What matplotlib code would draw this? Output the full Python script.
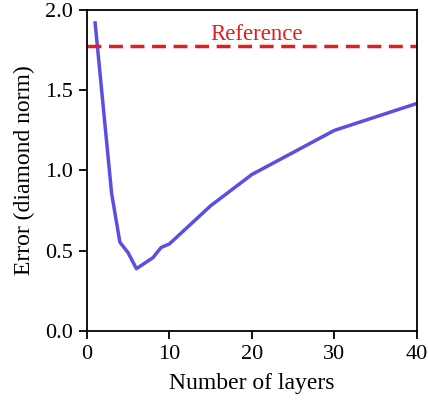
import numpy as np
import matplotlib
matplotlib.use("Agg")
import matplotlib.pyplot as plt

# error vs number of layers
layers = [1, 3, 4, 5, 6, 8, 9, 10, 15, 20, 30, 40]
error = [1.92, 0.856, 0.553, 0.487, 0.388, 0.456, 0.52, 0.542, 0.78, 0.975, 1.25, 1.418]
reference_error = 1.775

plt.rcParams['font.family'] = ['Liberation Serif', 'DejaVu Serif']
plt.rcParams['font.size'] = 16

fig = plt.figure(figsize=(4.28, 4.04), dpi=100)
ax = fig.add_axes([0.203, 0.181, 0.771, 0.794])

ax.plot(layers, error, color='#5a4fe3', lw=2.5)
ax.axhline(reference_error, color='#e31e1e', ls='--', lw=2.5, dashes=(4, 2.2))
ax.text(20.6, reference_error + 0.01, 'Reference', color='#e31e1e',
        ha='center', va='bottom', fontsize=16.5)

ax.set_xlim(0, 40)
ax.set_ylim(0, 2.0)
ax.set_xticks([0, 10, 20, 30, 40])
ax.set_yticks([0.0, 0.5, 1.0, 1.5, 2.0])
ax.set_yticklabels(['0.0', '0.5', '1.0', '1.5', '2.0'])
ax.set_xlabel('Number of layers', labelpad=7, fontsize=17)
ax.set_ylabel('Error (diamond norm)', labelpad=7, fontsize=17)
for s in ax.spines.values():
    s.set_linewidth(1.3)
ax.tick_params(width=1.3, length=6, pad=4)

fig.savefig('out.png', dpi=100)
